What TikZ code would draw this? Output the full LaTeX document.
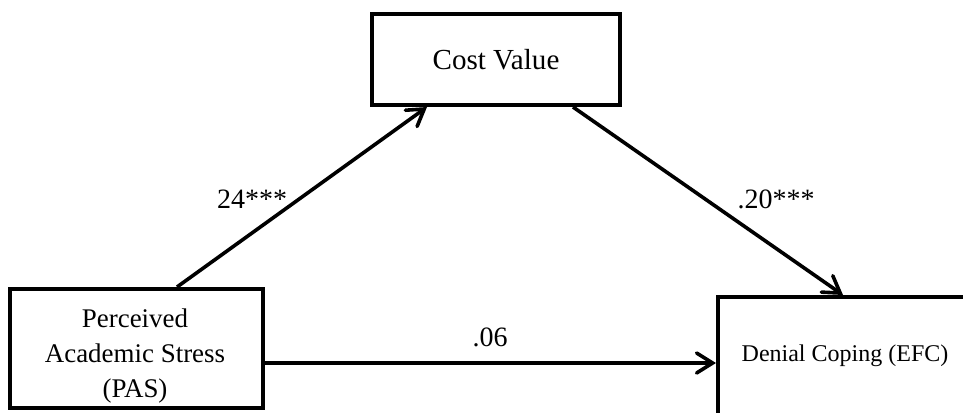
\documentclass[tikz,border=0pt]{standalone}
\usepackage{fontspec}
\setmainfont{Liberation Serif}
\usetikzlibrary{arrows.meta,calc}
\begin{document}
\begin{tikzpicture}[x=0.75pt,y=-0.75pt,
  box/.style={draw,line width=3pt,rectangle,inner sep=0pt,align=center},
  arr/.style={line width=2.7pt,-{Straight Barb[length=12pt,width=15pt,line cap=round]}},
  lbl/.style={inner sep=0pt,font=\fontsize{21}{25}\selectfont}]
\useasboundingbox (0,0) rectangle (963,412);
\clip (0,0) rectangle (963,412);
\node[box,minimum width=189.75pt,minimum height=89.25pt] (pas) at (136.5,348.5) {};
\node[inner sep=0pt,align=center,font=\fontsize{20.2}{26.5}\selectfont] (past) at (135,356) {Perceived\\Academic Stress\\(PAS)};
\node[box,minimum width=186pt,minimum height=68.25pt,font=\fontsize{21.8}{26}\selectfont] (cost) at (496,59.5) {Cost Value};
\node[box,minimum width=190.5pt,minimum height=120pt] (dce) at (845,377) {};
\node[inner sep=0pt,font=\fontsize{18}{22}\selectfont] (dcet) at (845,356) {Denial Coping (EFC)};
\draw[arr] ($(pas.north)+(40.5,0)$) -- ($(cost.south)+(-69,0)$);
\draw[arr] ($(cost.south)+(77,0)$) -- ($(dce.north)+(-2,0)$);
\draw[arr] ($(pas.east)+(0,14.5)$) -- ($(dce.west)+(0,-14)$);
\node[lbl] (l1) at (252,199) {24***};
\node[lbl] (l2) at (776,199) {.20***};
\node[lbl] (l3) at (490,337) {.06};
\end{tikzpicture}
\end{document}
